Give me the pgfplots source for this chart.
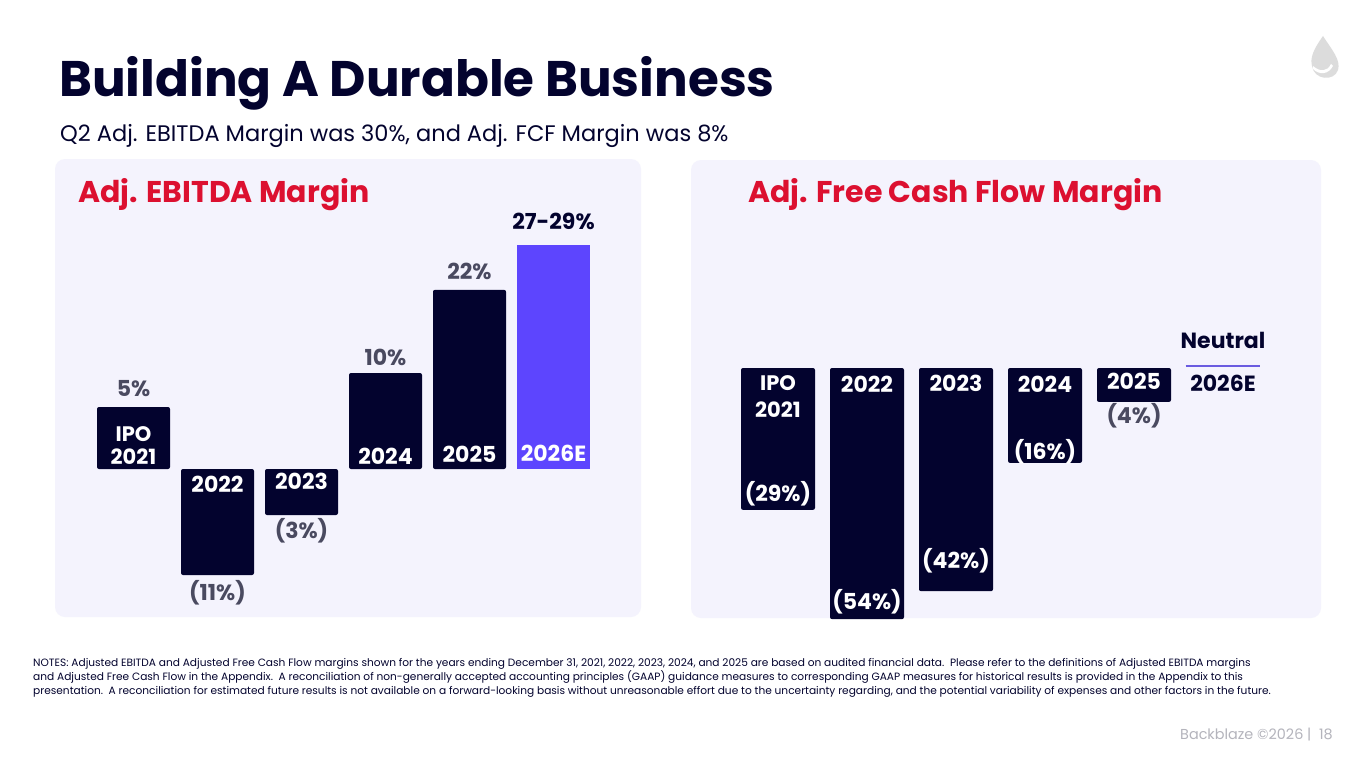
\documentclass[border=0pt]{standalone}
\usepackage{pgfplots}
\pgfplotsset{compat=1.18}
\usepackage{fontspec}
\setmainfont{Poppins}
\definecolor{navy}{HTML}{03032E}
\definecolor{purp}{HTML}{5D45FE}
\definecolor{redt}{HTML}{DC1030}
\definecolor{panel}{HTML}{F4F3FD}
\definecolor{greyl}{HTML}{4A4A60}
\definecolor{foot}{HTML}{B4B4BC}
\definecolor{logo}{HTML}{DCDCDC}
\definecolor{neut}{HTML}{6A5BE0}
\begin{document}
\begin{tikzpicture}
\begin{scope}[x=1pt,y=-1pt]
\fill[white] (0,0) rectangle (1365,768);
\fill[panel, rounded corners=10pt] (55,159) rectangle (641,617);
\fill[panel, rounded corners=10pt] (691,160) rectangle (1321,618);
% logo
\fill[logo] (1323,36) .. controls (1313,50) and (1310,58) .. (1312,66) .. controls (1314,80) and (1334,82) .. (1338,70) .. controls (1341,60) and (1332,50) .. (1323,36) -- cycle;
\fill[white] (1313,66) .. controls (1320,72) and (1327,72) .. (1331,64) -- (1333,66) .. controls (1328,75) and (1319,75) .. (1313,69) -- cycle;
% titles
\node[anchor=base west, inner sep=0, text=navy, font=\fontsize{50}{56}\selectfont\bfseries] at (59,96) {Building A Durable Business};
\node[anchor=base west, inner sep=0, text=navy, font=\fontsize{22.5}{26}\selectfont] at (60,141) {Q2 Adj. EBITDA Margin was 30\%, and Adj. FCF Margin was 8\%};
\node[anchor=base west, inner sep=0, text=redt, font=\fontsize{30}{34}\selectfont\bfseries] at (78,202) {Adj. EBITDA Margin};
\node[anchor=base west, inner sep=0, text=redt, font=\fontsize{30}{34}\selectfont\bfseries] at (748,202) {Adj. Free Cash Flow Margin};
% notes
\begin{scope}[every node/.style={anchor=base west, inner sep=0, text=navy, font=\fontsize{10.6}{12}\selectfont}]
\node at (33,666) {NOTES: Adjusted EBITDA and Adjusted Free Cash Flow margins shown for the years ending December 31, 2021, 2022, 2023, 2024, and 2025 are based on audited financial data.\ \ Please refer to the definitions of Adjusted EBITDA margins};
\node at (33,680) {and Adjusted Free Cash Flow in the Appendix.\ \ A reconciliation of non-generally accepted accounting principles (GAAP) guidance measures to corresponding GAAP measures for historical results is provided in the Appendix to this};
\node at (33,694) {presentation.\ \ A reconciliation for estimated future results is not available on a forward-looking basis without unreasonable effort due to the uncertainty regarding, and the potential variability of expenses and other factors in the future.};
\end{scope}
\node[anchor=base east, inner sep=0, text=foot, font=\fontsize{14.4}{16}\selectfont] at (1333,739) {Backblaze ©2026 |\ \ 18};
\end{scope}

% ---------- EBITDA ----------
\begin{axis}[at={(91.5pt,-597pt)}, anchor=south west, scale only axis,
  width=504pt, height=384pt, xmin=-0.5, xmax=5.5, ymin=-16, ymax=32,
  hide axis, clip=false, ybar, bar width=73pt, bar shift=0pt]
\addplot[fill=navy, draw=none, rounded corners=2pt] coordinates {(0,7.75) (1,-13.25) (2,-5.75) (3,12) (4,22.4)};
\addplot[fill=purp, draw=none] coordinates {(5,28)};
\begin{scope}[every node/.style={font=\fontsize{22}{25}\selectfont\bfseries, inner sep=0}]
\node[text=greyl] at (axis cs:0,10.1) {5\%};
\node[text=greyl] at (axis cs:3,14) {10\%};
\node[text=greyl] at (axis cs:4,24.75) {22\%};
\node[text=navy] at (axis cs:5,30.9) {27-29\%};
\node[text=greyl] at (axis cs:1,-15.5) {(11\%)};
\node[text=greyl] at (axis cs:2,-7.75) {(3\%)};
\node[text=white, align=center, font=\fontsize{21}{23}\selectfont\bfseries] at (axis cs:0,2.9) {IPO\\2021};
\node[text=white] at (axis cs:1,-1.9) {2022};
\node[text=white] at (axis cs:2,-1.6) {2023};
\node[text=white] at (axis cs:3,1.6) {2024};
\node[text=white] at (axis cs:4,1.9) {2025};
\node[text=white] at (axis cs:5,2) {2026E};
\end{scope}
\end{axis}

% ---------- FCF ----------
\begin{axis}[at={(733.5pt,-637.7pt)}, anchor=south west, scale only axis,
  width=534pt, height=316.2pt, xmin=-0.5, xmax=5.5, ymin=-58, ymax=10,
  hide axis, clip=false, ybar, bar width=74pt, bar shift=0pt]
\addplot[fill=navy, draw=none, rounded corners=2pt] coordinates {(0,-30.5) (1,-54) (2,-48) (3,-20.4) (4,-7.3)};
\addplot[sharp plot, neut, line width=1.5pt] coordinates {(4.58,0.4) (5.42,0.4)};
\begin{scope}[every node/.style={font=\fontsize{22}{25}\selectfont\bfseries, inner sep=0}]
\node[text=white, align=center, font=\fontsize{21}{27}\selectfont\bfseries] at (axis cs:0,-6.2) {IPO\\2021};
\node[text=white] at (axis cs:1,-3.4) {2022};
\node[text=white] at (axis cs:2,-3.4) {2023};
\node[text=white] at (axis cs:3,-3.4) {2024};
\node[text=white] at (axis cs:4,-2.8) {2025};
\node[text=navy] at (axis cs:5,-3.2) {2026E};
\node[text=navy] at (axis cs:5,6.0) {Neutral};
\node[text=white] at (axis cs:0,-27.1) {(29\%)};
\node[text=white] at (axis cs:1,-50.3) {(54\%)};
\node[text=white] at (axis cs:2,-41.5) {(42\%)};
\node[text=white] at (axis cs:3,-18.1) {(16\%)};
\node[text=greyl] at (axis cs:4,-10.3) {(4\%)};
\end{scope}
\end{axis}
\end{tikzpicture}
\end{document}
